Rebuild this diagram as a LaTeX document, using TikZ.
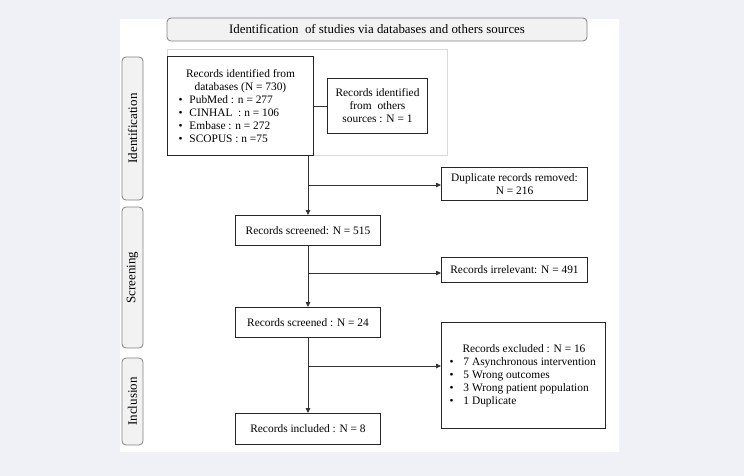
\documentclass[tikz,border=0pt]{standalone}
\usepackage{fontspec}
\setmainfont{Liberation Serif}
\usetikzlibrary{arrows.meta,calc}
\definecolor{bgc}{RGB}{240,241,246}
\definecolor{sidefill}{RGB}{242,242,242}
\definecolor{sidedraw}{RGB}{130,130,130}
\newcommand\bulitem[2]{\hspace*{#1}\makebox[11pt][l]{\textbullet}#2}
\begin{document}
\begin{tikzpicture}[x=1pt,y=-1pt,
  every node/.style={font=\fontsize{11.4}{13}\selectfont},
  box/.style={draw=black!85, line width=1pt, fill=white, anchor=north west, inner sep=0pt, align=center},
  side/.style={draw=sidedraw, fill=sidefill, rounded corners=4pt, inner sep=0pt, line width=0.8pt},
  sidelab/.style={side, rotate=90, minimum height=21, font=\fontsize{13}{15}\selectfont},
  conn/.style={draw=black!80, line width=0.8pt},
  arr/.style={conn, -{Triangle[length=5pt,width=4.5pt]}}]
\useasboundingbox (0,0) rectangle (744,476);
\fill[bgc] (0,0) rectangle (744,476);
\fill[white] (120,19) rectangle (619,452);

\node[side, minimum width=420, minimum height=23, font=\fontsize{12.9}{14}\selectfont] (title) at (377,29.5)
  {Identification\ \ of studies via databases and others sources};

\node[sidelab, minimum width=143] (sid) at (132.5,128.5) {Identification};
\node[sidelab, minimum width=141] (sscr) at (132.5,277.5) {Screening};
\node[sidelab, minimum width=87] (sinc) at (132.5,401.5) {Inclusion};

\node[draw=black!15, line width=1pt, minimum width=280, minimum height=106, anchor=north west, inner sep=0pt] (idarea) at (167,49) {};

\node[box, minimum width=146, minimum height=99] (db) at (167,56)
  {\parbox{140pt}{\centering Records identified from\\databases (N = 730)\par
   \raggedright\bulitem{8pt}{PubMed : n = 277}\\
   \bulitem{8pt}{CINHAL\ \ : n = 106}\\
   \bulitem{8pt}{Embase : n = 272}\\
   \bulitem{8pt}{SCOPUS : n =75}}};

\node[box, minimum width=100, minimum height=55] (oth) at (327,78)
  {Records identified\\from\ \ others\\sources : N = 1};

\node[box, minimum width=146, minimum height=33] (dup) at (441,167)
  {Duplicate records removed:\\N = 216};
\node[box, minimum width=145, minimum height=30] (s1) at (235,215)
  {Records screened: N = 515};
\node[box, minimum width=146, minimum height=25] (irr) at (441,257)
  {Records irrelevant: N = 491};
\node[box, minimum width=145, minimum height=30] (s2) at (235,307)
  {Records screened : N = 24};
\node[box, minimum width=164, minimum height=106] (ex) at (441,322)
  {\parbox{164pt}{\raggedright\hspace*{21pt}Records excluded : N = 16\\
   \bulitem{8pt}{\hspace*{3pt}7 Asynchronous intervention}\\
   \bulitem{8pt}{\hspace*{3pt}5 Wrong outcomes}\\
   \bulitem{8pt}{\hspace*{3pt}3 Wrong patient population}\\
   \bulitem{8pt}{\hspace*{3pt}1 Duplicate}}};
\node[box, minimum width=145, minimum height=31] (inc) at (235,413)
  {Records included : N = 8};

\coordinate (b1) at (307.5,185);
\coordinate (b2) at (307.5,273);
\coordinate (b3) at (307.5,366);

\draw[conn] (oth.west -| db.east) -- (oth.west);
\draw[arr] (s1.north |- db.south) -- (s1.north);
\draw[arr] (b1) -- (b1 -| dup.west);
\draw[arr] (s1.south) -- (s2.north);
\draw[arr] (b2) -- (b2 -| irr.west);
\draw[arr] (s2.south) -- (inc.north);
\draw[arr] (b3) -- (b3 -| ex.west);
\end{tikzpicture}
\end{document}
